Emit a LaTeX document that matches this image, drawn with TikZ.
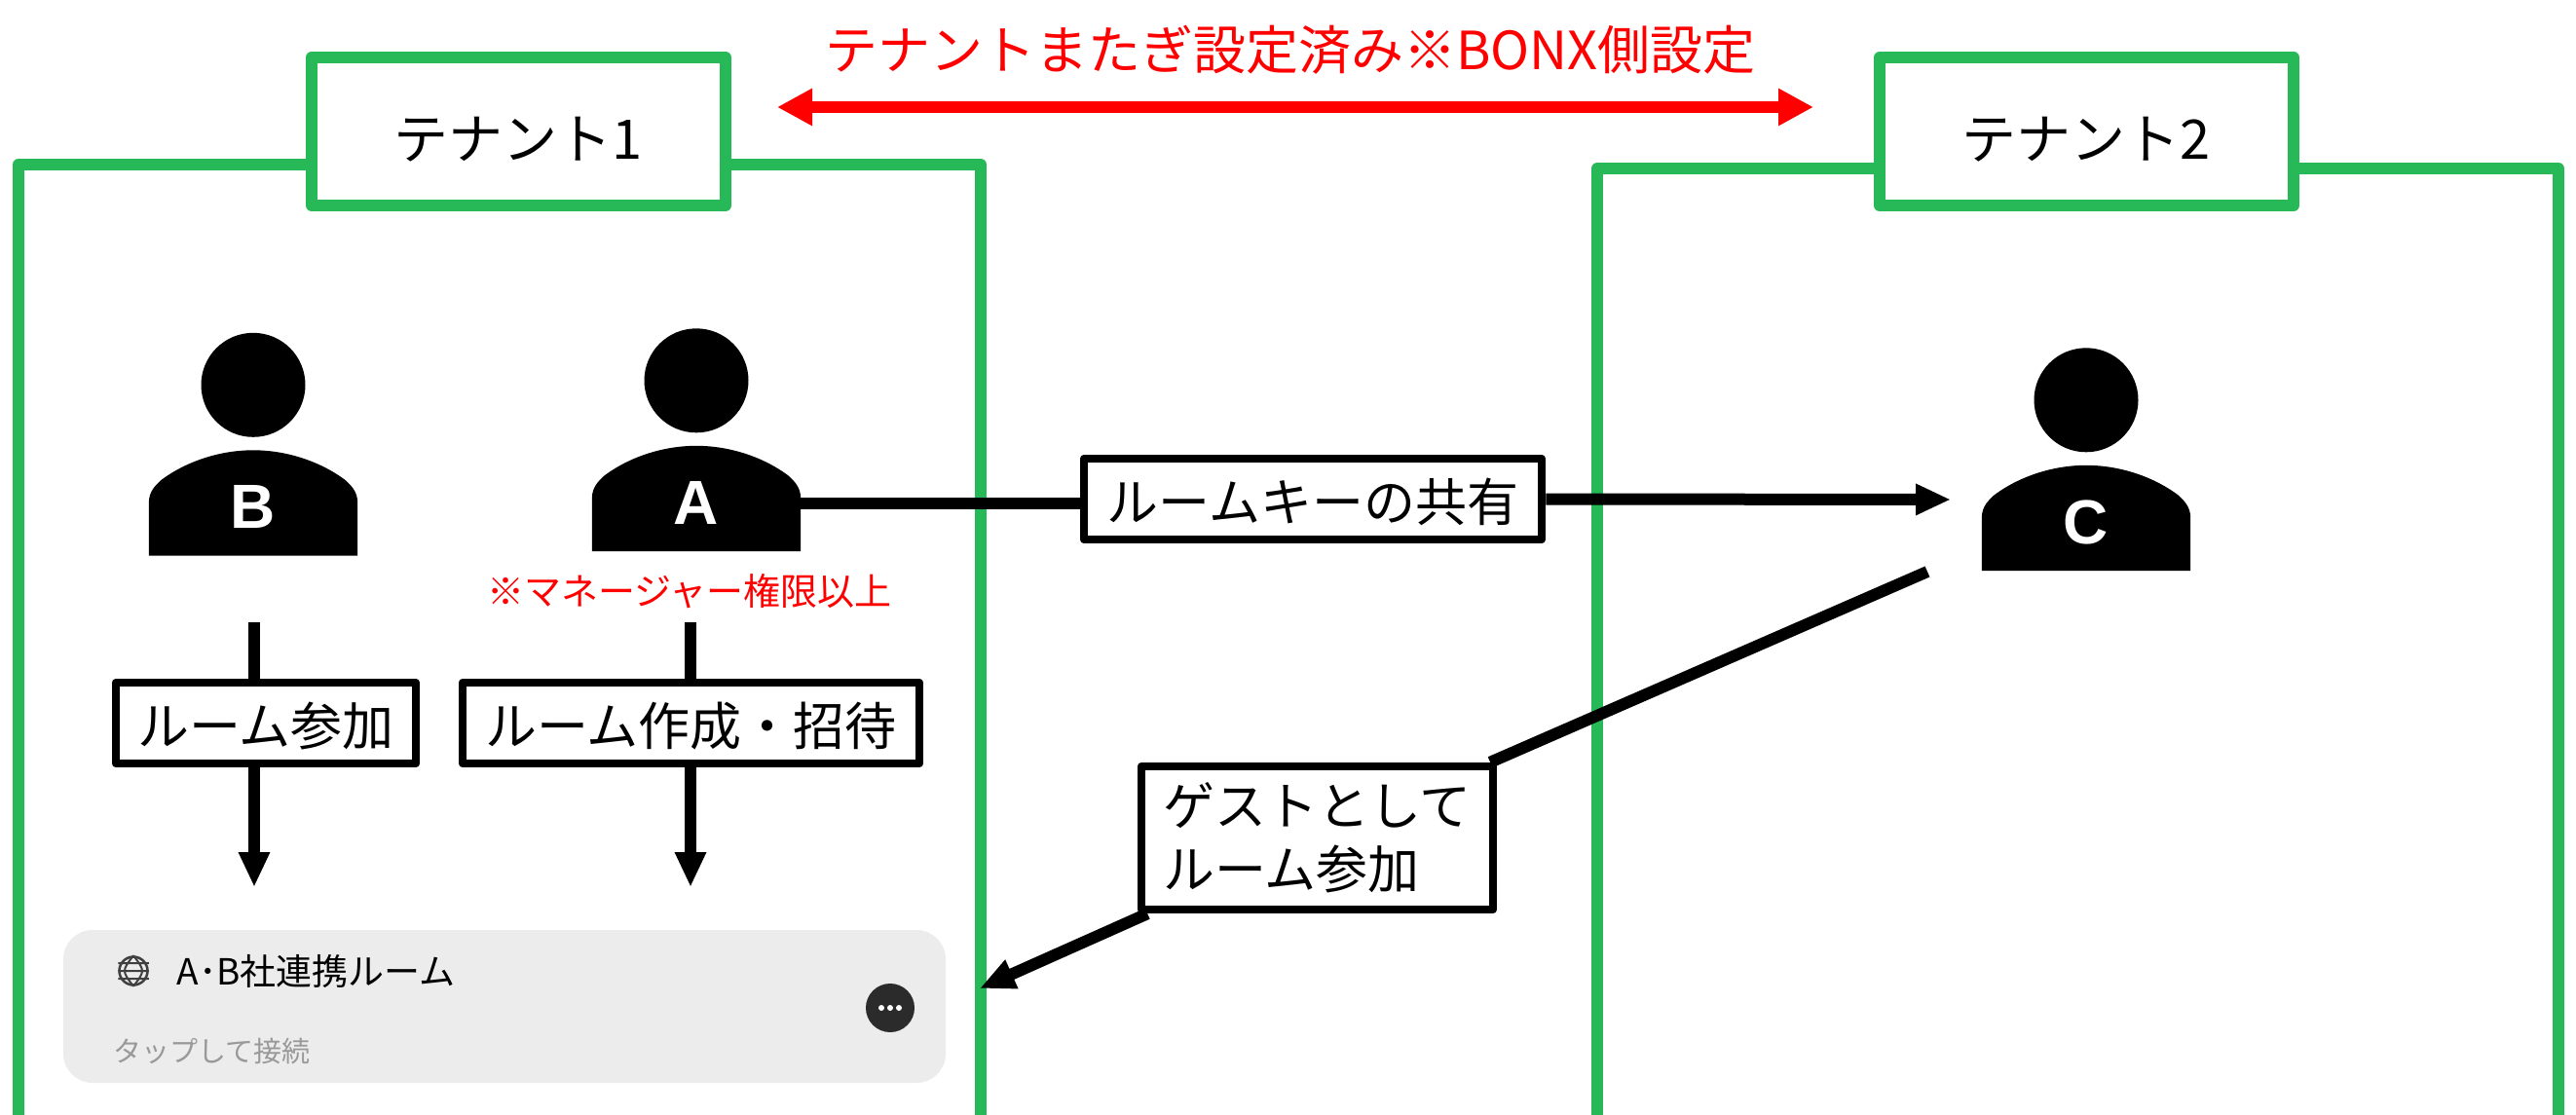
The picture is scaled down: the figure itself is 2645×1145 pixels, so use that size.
\documentclass[tikz,border=0pt]{standalone}
\usepackage{fontspec}
\setmainfont{Noto Sans CJK JP}
\newfontfamily\latinfont{Liberation Sans}
\usetikzlibrary{arrows.meta, positioning}

\definecolor{framegreen}{HTML}{27B857}
\definecolor{cardgray}{HTML}{ECECEC}

\newcommand{\jpsize}[1]{\fontsize{#1}{#1}\selectfont}

\begin{document}
\begin{tikzpicture}[
            x = 1pt,
            y = -1pt,
            > = {Triangle[length=36pt, width=30pt]},
            line join = round
        ]

        \tikzset{
            tenant/.style = {draw = framegreen, line width = 12pt, fill = white, minimum width = 425pt, minimum height = 152pt, inner sep = 0pt, text height = 58pt, text depth = 0pt, font = \jpsize{56}},
            action/.style = {draw = black, line width = 8.5pt, fill = white, inner sep = 0pt, text height = 46pt, text depth = 0pt, font = \jpsize{53}},
            body/.style = {minimum width = 214pt, minimum height = 108pt, inner sep = 0pt},
            letter/.style = {yshift = -4pt, text = white, font = \latinfont\bfseries\jpsize{64}},
            link/.style = {draw = black, line width = 12pt},
            crossing/.style = {draw = red, line width = 12pt, <->, >={Triangle[length=36pt, width=36pt]}}
        }
        \useasboundingbox (0,0) rectangle (2645,1145);

        % tenant frames
        \draw[draw = framegreen, line width = 12pt] (19,1145) -- (19,169) -- (1007,169) -- (1007,1145);
        \draw[draw = framegreen, line width = 12pt] (1640,1145) -- (1640,173) -- (2627,173) -- (2627,1145);
        \node[tenant] (tenant1) at (532.5,135) {テナント1};
        \node[tenant] (tenant2) at (2142.5,135) {テナント2};

        % people
        \node[body] (userB) at (260,516.5) {};
        \node[body] (userA) at (715,512) {};
        \node[body] (userC) at (2142,532) {};
        \foreach \user in {userA, userB, userC} {
            \fill[black] (\user.south west) -- (\user.west) .. controls ([yshift=12pt]\user.west) and ([xshift=7pt,yshift=18pt]\user.west) .. ([xshift=12pt,yshift=23pt]\user.west)
                .. controls ([xshift=-70pt,yshift=-12pt]\user.north) and ([xshift=-35pt]\user.north) .. (\user.north)
                .. controls ([xshift=35pt]\user.north) and ([xshift=70pt,yshift=-12pt]\user.north) .. ([xshift=-12pt,yshift=23pt]\user.east)
                .. controls ([xshift=-7pt,yshift=18pt]\user.east) and ([yshift=12pt]\user.east) .. (\user.east) -- (\user.south east) -- cycle;
            \fill[black] ([yshift=67pt]\user.north) circle (53.5pt);
        }
        \node[letter] (letterB) at (userB) {B};
        \node[letter] (letterA) at (userA) {A};
        \node[letter] (letterC) at (userC) {C};

        % red texts
        \node[text = red, font = \jpsize{54}] (sharedNote) at (1325,51) {テナントまたぎ設定済み※BONX側設定};
        \node[text = red, font = \jpsize{38}] (managerNote) at (708,607) {※マネージャー権限以上};

        % action boxes
        \node[action, minimum width = 308pt, minimum height = 83pt] (joinBox) at (273,742.5) {ルーム参加};
        \node[action, minimum width = 469pt, minimum height = 83pt] (createBox) at (709.5,742.5) {ルーム作成・招待};
        \node[action, minimum width = 470pt, minimum height = 83pt] (keyBox) at (1348,512.5) {ルームキーの共有};
        \node[draw = black, line width = 8.5pt, fill = white, minimum width = 361pt, minimum height = 147pt, inner sep = 0pt, font = \fontsize{53}{65}\selectfont, align = left] (guestBox) at (1352.5,860.5) {ゲストとして\\ルーム参加};

        % room card
        \node[fill = cardgray, rounded corners = 30pt, minimum width = 906pt, minimum height = 157pt] (roomCard) at (518,1033.5) {};
        \node[font = \jpsize{37}, anchor = west] (roomName) at (178,997) {A･B社連携ルーム};
        \node[font = \jpsize{29}, text = black!40, anchor = west] (roomHint) at (113,1079) {タップして接続};
        \node[fill = black!83, circle, minimum size = 50pt, inner sep = 0pt] (roomMenu) at (914,1035) {};
        \foreach \dx in {-9,0,9}
            \fill[white] ([xshift=\dx pt]roomMenu.center) circle (3pt);
        \node[draw = black!75, circle, line width = 2.5pt, minimum size = 29pt, inner sep = 0pt] (roomGlobe) at (137,997) {};
        \draw[black!75, line width = 2pt] (roomGlobe.north) .. controls ([xshift=-12pt]roomGlobe.center) .. (roomGlobe.south)
            (roomGlobe.north) .. controls ([xshift=12pt]roomGlobe.center) .. (roomGlobe.south)
            (roomGlobe.west) -- (roomGlobe.east)
            ([yshift=-8pt]roomGlobe.west) -- ([yshift=-8pt]roomGlobe.east)
            ([yshift=8pt]roomGlobe.west) -- ([yshift=8pt]roomGlobe.east);

        % free ends
        \coordinate (crossLeft) at (798,110);
        \coordinate (crossRight) at (1862,110);
        \coordinate (joinTop) at (261,639);
        \coordinate (joinEnd) at (261,911);
        \coordinate (createTop) at (709,639);
        \coordinate (createEnd) at (709,911);
        \coordinate (keyStart) at (822,517);
        \coordinate (keyEnd) at (2003,513);
        \coordinate (guestStart) at (1979,587);
        \coordinate (guestEnd) at (1006,1015);

        \draw[crossing] (crossLeft) -- (crossRight);
        \draw[link] (joinTop) -- (joinBox.north -| joinTop);
        \draw[link, ->] (joinBox.south -| joinEnd) -- (joinEnd);
        \draw[link] (createTop) -- (createBox.north -| createTop);
        \draw[link, ->] (createBox.south -| createEnd) -- (createEnd);
        \draw[link] (keyStart) -- (keyBox.west |- keyStart);
        \draw[link, ->] (keyBox.east) -- (keyEnd);
        \draw[link] (guestStart) -- (guestBox);
        \draw[link, ->] (guestBox) -- (guestEnd);

\end{tikzpicture}
\end{document}
